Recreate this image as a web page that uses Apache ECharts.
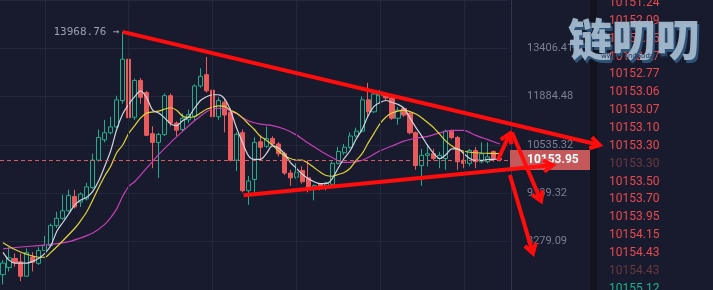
<!DOCTYPE html>
<html><head><meta charset="utf-8">
<script src="https://cdn.jsdelivr.net/npm/echarts@6/dist/echarts.min.js"></script>
<style>html,body{margin:0;padding:0;background:#181b2d;}#c{width:713px;height:290px;}</style>
</head><body><div id="c"></div>
<script>
// ---- y tick labels (log-spaced price axis) ----
const tickValues = [8279.09, 9339.32, 10535.32, 11884.48, 13406.41];
const tickLabels = ['8279.09', '9339.32', '10535.32', '11884.48', '13406.41'];

// ---- candles: [open, close, low, high] ----
const candles = [
 [7626,7849,7444,7906],[7761,7951,7686,8166],[7939,7855,7780,8041],[7874,7595,7503,8041],
 [7595,8055,7589,8140],[7970,7863,7686,8066],[7844,8100,7812,8166],[8100,8199,8095,8398],
 [8199,8617,8166,8658],[8617,8776,8567,8919],[8776,8941,8742,9310],[8941,9288,8919,9423],
 [9266,9029,8992,9423],[9139,9323,9029,9362],[9212,9492,9177,9590],[9476,10144,9437,10309],
 [10144,10733,10105,10950],[10671,10863,10604,11217],[10863,11022,10818,11306],[11022,11791,10995,11913],
 [11771,13047,11677,13968.76],[13047,11279,10477,13439],[11290,12374,11217,12433],[12374,11864,11677,12451],
 [12009,10792,10774,12059],[10837,10604,9943,11038],[10604,10818,9707,10863],[10818,11913,10774,11980],
 [11913,11129,11038,11980],[11129,10932,10774,11172],[10950,11263,10906,11400],[11217,11364,11129,11510],
 [11306,12205,11217,12255],[12205,12502,12155,12755],[12554,12059,12009,13119],[12079,11306,11030,12117],
 [11306,11771,11217,11864],[11723,11353,10871,11827],[11435,10144,10112,11546],[10144,10818,9872,10871],
 [10863,9401,9362,10950],[9401,9630,9073,9753],[9667,10604,9272,10741],[10619,10477,10162,10792],
 [10502,10707,10460,11030],[10707,10561,10510,10766],[10561,10309,10235,10612],[10309,9824,9777,10360],
 [9824,9707,9515,9903],[9723,9841,9683,10064],[9887,9614,9567,9991],[9707,9437,9362,10137],
 [9437,9521,9177,9551],[9551,9476,9407,9560],[9515,9590,9407,9614],[9551,10064,9476,10112],
 [10064,10367,10039,10485],[10334,10477,10284,10561],[10477,10774,10435,10871],[10774,10906,10741,11003],
 [10906,11791,10871,11893],[11791,11444,11271,12303],[11444,11963,11408,12059],[11913,11963,11686,12079],
 [11963,11847,11771,12009],[11847,11263,11217,11913],[11263,11491,11083,11582],[11538,11353,11298,11573],
 [11400,10863,10818,11435],[10863,10008,9903,10898],[10008,10267,9515,10435],[10267,10309,9984,10561],
 [10309,10186,10137,10435],[10186,10267,9943,10360],[10186,10906,9903,10950],[10906,10733,10689,10950],
 [10733,10105,9903,10774],[10144,10064,9943,10360],[10064,10392,9991,10435],[10392,10105,9943,10485],
 [10105,10309,10064,10604],[10105,10228,10064,10604],[10367,10186,10105,10392],[10186,10153.95,10112,10235]
];
const lastPrice = 10153.95;
const highPrice = 13968.76, highIndex = 20;

// ---- moving averages: [candle index, price] ----
const maWhite = [[0,8061],[1,7906],[2,7849],[3,7849],[4,7849],[5,7887],[6,7945],[7,8041],[8,8199],[9,8499],
 [10,8685],[11,8876],[12,9073],[13,9184],[14,9250],[15,9385],[16,9637],[17,9991],[18,10384],[19,10950],
 [20,11380],[21,11658],[22,11884],[23,12059],[24,11856],[25,11491],[26,11408],[27,11271],[28,11110],[29,11056],
 [30,11190],[31,11298],[32,11546],[33,11771],[34,11884],[35,11942],[36,11942],[37,11827],[38,11491],[39,11003],
 [40,10612],[41,10260],[42,10162],[43,10162],[44,10309],[45,10510],[46,10460],[47,10309],[48,10088],[49,9943],
 [50,9800],[51,9684],[52,9614],[53,9567],[54,9567],[55,9684],[56,9943],[57,10186],[58,10384],[59,10689],
 [60,10950],[61,11325],[62,11601],[63,11714],[64,11771],[65,11714],[66,11658],[67,11546],[68,11271],[69,11003],
 [70,10766],[71,10510],[72,10309],[73,10186],[74,10284],[75,10435],[76,10435],[77,10309],[78,10186],[79,10137],
 [80,10137],[81,10162],[82,10162],[83,10186]];
const maYellow = [[0,8259],[2,8120],[4,8022],[6,7964],[7,7964],[8,8061],[10,8299],[12,8561],[13,8727],[14,8919],
 [15,9184],[16,9476],[17,9753],[18,9991],[19,10334],[20,10535],[21,10845],[22,11056],[23,11271],[24,11408],
 [26,11463],[28,11560],[29,11491],[30,11325],[31,11285],[32,11312],[33,11408],[34,11518],[35,11573],[36,11615],
 [37,11601],[38,11491],[39,11408],[40,11271],[41,11110],[42,10950],[43,10766],[44,10663],[45,10535],[46,10384],
 [47,10260],[48,10186],[49,10149],[50,10144],[51,10064],[52,9955],[53,9847],[54,9765],[55,9746],[56,9788],
 [57,9835],[58,9943],[59,10137],[60,10309],[61,10586],[62,10845],[63,11110],[64,11298],[65,11408],[66,11463],
 [67,11491],[68,11450],[69,11380],[70,11271],[71,11137],[72,10995],[73,10818],[74,10638],[75,10510],[76,10422],
 [77,10372],[78,10347],[80,10327],[83,10309]];
const maPink = [[0,8130],[3,8170],[6,8199],[9,8239],[11,8279],[13,8358],[15,8458],[17,8644],[18,8791],[19,8985],
 [20,9272],[21,9499],[22,9614],[24,9943],[26,10284],[28,10599],[30,10898],[32,11190],[34,11449],[35,11532],
 [37,11546],[38,11463],[39,11394],[41,11190],[43,11096],[45,11056],[47,10964],[49,10805],[51,10586],[53,10384],
 [55,10211],[57,10088],[59,10100],[61,10211],[63,10384],[65,10510],[67,10638],[69,10715],[71,10766],[73,10858],
 [75,10929],[77,10924],[79,10792],[81,10676],[83,10561]];

// ---- hand-drawn annotations: [candle index, price] endpoints (arrow at "to") ----
const annotations = [
 {from: [20, 13968.76], to: [99.7, 10535]},
 {from: [40.2, 9294], to: [91.9, 10020]},
 {from: [82.7, 10150], to: [84.7, 10844]},
 {from: [85.05, 10870], to: [89.9, 9161]},
 {from: [84.7, 9776], to: [88.55, 8041]}
];

// ---- order book prices (right panel) ----
const bookPrices = ['10151.24','10152.09','10152.35','10152.57','10152.77','10153.06','10153.07','10153.10',
 '10153.30','10153.30','10153.50','10153.70','10153.95','10154.15','10154.43','10154.43','10155.12'];
const bookKind = ['a','a','a','a','a','a','a','a','a','d','a','a','a','a','a','d','g'];

const gridCols = [7, 21, 35, 49, 63, 77];
const nSlots = 85;
const categories = Array.from({length: nSlots}, (_, i) => 'k' + i);

const LOGSPAN = Math.log(tickValues[4] / tickValues[0]);
const T = p => 4 * Math.log(p / tickValues[0]) / LOGSPAN;

const BG = '#181b2d', GRID = '#23273b', RED = '#eb5b5b', GREEN = '#1fae8c';

const chart = echarts.init(document.getElementById('c'), null, {renderer: 'canvas'});
chart.setOption({
  animation: false,
  backgroundColor: BG,
  grid: {left: -1.3, right: 204.3, top: -3.5, bottom: -6.5, containLabel: false},
  xAxis: {type: 'category', data: categories, boundaryGap: true,
    axisLine: {show: false}, axisTick: {show: false}, axisLabel: {show: false}, splitLine: {show: false}},
  yAxis: {type: 'value', position: 'right', offset: 2.3, min: -1, max: 5, interval: 1, scale: false,
    axisLine: {show: true, lineStyle: {color: '#30354f'}},
    axisTick: {show: false},
    splitLine: {show: true, lineStyle: {color: GRID, width: 1}},
    axisLabel: {margin: 16, color: '#7b7f95', fontSize: 11, fontFamily: 'Roboto',
      showMinLabel: false, showMaxLabel: false,
      formatter: v => { const i = Math.round(v); return (i >= 0 && i < tickLabels.length) ? tickLabels[i] : ''; }}},
  series: [
    {type: 'line', data: [], z: 1, silent: true,
      markLine: {silent: true, symbol: ['none', 'none'], label: {show: false},
        lineStyle: {color: GRID, width: 1, type: 'solid'},
        data: gridCols.map(i => ({xAxis: i}))}},
    {type: 'candlestick', z: 2, barWidth: 4.6,
      data: candles.map(c => c.map(T)),
      itemStyle: {color: BG, color0: RED, borderColor: GREEN, borderColor0: RED, borderWidth: 1},
      markLine: {silent: true, symbol: ['none', 'none'],
        lineStyle: {color: '#d95a5d', width: 1, type: [4, 3]},
        label: {show: true, position: 'end', distance: 1.3, formatter: lastPrice.toFixed(2),
          color: '#ffffff', fontWeight: 'bold', fontSize: 12, fontFamily: 'Roboto',
          backgroundColor: '#c4585b', padding: [4, 15, 4, 17]},
        data: [{yAxis: T(lastPrice)}]},
      markPoint: {symbol: 'circle', symbolSize: 0, silent: true,
        label: {show: true, position: 'left', distance: 3, formatter: highPrice.toFixed(2) + ' \u2192',
          color: '#9a9eb2', fontSize: 11, fontFamily: 'DejaVu Sans Mono'},
        data: [{coord: [highIndex, T(highPrice)]}]}},
    {type: 'line', z: 3, data: maPink.map(d => [d[0], T(d[1])]), smooth: 0.3, showSymbol: false,
      lineStyle: {color: '#c83fb6', width: 1.2}},
    {type: 'line', z: 3, data: maYellow.map(d => [d[0], T(d[1])]), smooth: 0.3, showSymbol: false,
      lineStyle: {color: '#e2d23a', width: 1.2}},
    {type: 'line', z: 3, data: maWhite.map(d => [d[0], T(d[1])]), smooth: 0.3, showSymbol: false,
      lineStyle: {color: '#d2d4de', width: 1.2}}
  ]
});

// annotations through the axes' own mapping
const p0 = chart.convertToPixel({xAxisIndex: 0, yAxisIndex: 0}, [0, T(10000)]);
const p1 = chart.convertToPixel({xAxisIndex: 0, yAxisIndex: 0}, [1, T(10000)]);
const step = p1[0] - p0[0];
const toPx = (idx, price) => [p0[0] + step * idx, chart.convertToPixel({yAxisIndex: 0}, T(price))];
function head(a, b, len, ang) {
  const t = Math.atan2(b[1] - a[1], b[0] - a[0]);
  return [[b[0] - len * Math.cos(t - ang), b[1] - len * Math.sin(t - ang)], b,
          [b[0] - len * Math.cos(t + ang), b[1] - len * Math.sin(t + ang)]];
}
const ANN = '#ff0d0d';
const graphics = [];
graphics.push({type: 'rect', z: 50, shape: {x: 590, y: 0, width: 7, height: 290}, style: {fill: '#11131f'}});
annotations.forEach(a => {
  const s = toPx(a.from[0], a.from[1]), e = toPx(a.to[0], a.to[1]);
  graphics.push({type: 'polyline', z: 100, shape: {points: [s, e]}, style: {stroke: ANN, lineWidth: 4, fill: null}});
  graphics.push({type: 'polyline', z: 100, shape: {points: head(s, e, 11, 0.55)},
    style: {stroke: ANN, lineWidth: 4, fill: null, lineJoin: 'miter'}});
});
bookPrices.forEach((p, i) => {
  const col = bookKind[i] === 'd' ? '#6a3741' : (bookKind[i] === 'g' ? '#1fb58c' : '#ea4a4f');
  graphics.push({type: 'text', z: 60, style: {text: p, x: 609, y: 3 + 17.85 * i, fill: col,
    font: '12px Roboto', verticalAlign: 'middle'}});
});
// watermark logo (two layers for the embossed look)
graphics.push({type: 'text', z: 119, style: {text: '链叨叨', x: 570, y: 42,
  font: '900 44px "Noto Sans CJK SC"', verticalAlign: 'middle', fill: '#2f5377'}});
graphics.push({type: 'text', z: 120, style: {text: '链叨叨', x: 568, y: 39,
  font: '900 44px "Noto Sans CJK SC"', verticalAlign: 'middle', fill: '#a3b9cd', opacity: 0.95}});
graphics.push({type: 'text', z: 121, style: {text: 'www.liandaodao.cn', x: 601, y: 56, fill: '#20314d',
  font: '7px "DejaVu Sans"', verticalAlign: 'middle'}});
chart.setOption({graphic: graphics});
</script>
</body></html>
